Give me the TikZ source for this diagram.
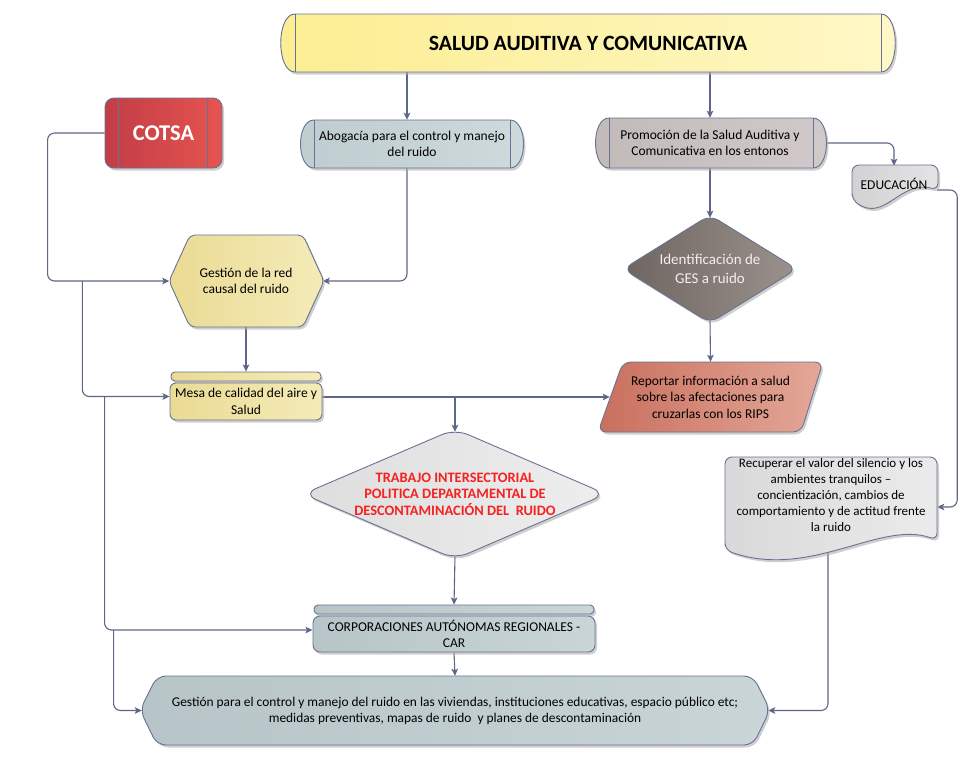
\documentclass[tikz,border=0pt]{standalone}
\usepackage{fontspec}
\setmainfont{Carlito}
\usetikzlibrary{arrows.meta,calc,shadows}
\pgfdeclarelayer{bgfill}
\pgfdeclarelayer{connect}
\pgfsetlayers{bgfill,connect,main}
\definecolor{linec}{HTML}{5E6787}
\definecolor{edgec}{HTML}{6A7292}
\definecolor{ttlA}{HTML}{FBEE92}
\definecolor{ttlB}{HTML}{FFF7C6}
\definecolor{cotA}{HTML}{C23D47}
\definecolor{cotB}{HTML}{E5544F}
\definecolor{aboA}{HTML}{BFCDD0}
\definecolor{aboB}{HTML}{CEDADC}
\definecolor{proA}{HTML}{C2B9B9}
\definecolor{proB}{HTML}{D2CACA}
\definecolor{eduA}{HTML}{D2D2D2}
\definecolor{eduB}{HTML}{E4E4E4}
\definecolor{gesA}{HTML}{EADB94}
\definecolor{gesB}{HTML}{F4EBB8}
\definecolor{ideA}{HTML}{6E6460}
\definecolor{ideB}{HTML}{9B918D}
\definecolor{repA}{HTML}{C96F5E}
\definecolor{repB}{HTML}{E4A898}
\definecolor{traA}{HTML}{DEDEDE}
\definecolor{traB}{HTML}{EEEEEE}
\definecolor{recA}{HTML}{D9D9D9}
\definecolor{recB}{HTML}{EBEBEB}
\definecolor{corA}{HTML}{B7C5C8}
\definecolor{corB}{HTML}{C9D5D7}
\definecolor{redtxt}{HTML}{F52222}
\definecolor{idetxt}{HTML}{F2F0EF}
\definecolor{shadc}{HTML}{B0B0B0}
\begin{document}
\begin{tikzpicture}[x=1pt,y=-1pt,
  conn/.style={draw=linec,line width=1.1pt,rounded corners=7pt,-{Stealth[length=7pt,width=6.5pt,inset=1.5pt]}},
  shp/.style={draw=edgec,line width=0.9pt,drop shadow={shadow xshift=2pt,shadow yshift=-2.5pt,fill=shadc,opacity=0.6}},
  inner/.style={draw=edgec,line width=0.9pt},
  txt/.style={align=center,inner sep=0pt,font=\fontsize{13.5}{16.5}\selectfont},
  anch/.style 2 args={txt,minimum width=#1,minimum height=#2}]
\begin{pgfonlayer}{bgfill}
\fill[white] (0,0) rectangle (971,764);
\end{pgfonlayer}
\useasboundingbox (0,0) rectangle (971,764);

% title
\path[shp,left color=ttlA,right color=ttlB] (295,14) -- (881,14) .. controls (900,14) and (900,72) .. (881,72) -- (295,72) .. controls (276,72) and (276,14) .. (295,14) -- cycle;
\draw[inner] (295,14) -- (295,72) (881,14) -- (881,72);
\node[anch={610pt}{58pt},font=\fontsize{21.8}{24}\selectfont\bfseries] (title) at (588,43) {SALUD AUDITIVA Y COMUNICATIVA};

% COTSA
\node[shp,rounded corners=9pt,left color=cotA,right color=cotB,minimum width=117pt,minimum height=70pt,txt,text=white,font=\fontsize{22.5}{24}\selectfont\bfseries] (cotsa) at (163.5,133) {COTSA};
\draw[inner] ([xshift=14pt]cotsa.north west) -- ([xshift=14pt]cotsa.south west);
\draw[inner] ([xshift=-15pt]cotsa.north east) -- ([xshift=-15pt]cotsa.south east);

% Abogacia
\path[shp,left color=aboA,right color=aboB] (314,120) -- (510,120) .. controls (528,120) and (528,168) .. (510,168) -- (314,168) .. controls (296,168) and (296,120) .. (314,120) -- cycle;
\draw[inner] (314,120) -- (314,168) (510,120) -- (510,168);
\node[anch={224pt}{48pt}] (abog) at (412,144) {Abogacía para el control y manejo\\del ruido};

% Promocion
\path[shp,left color=proA,right color=proB] (609,118) -- (813,118) .. controls (831,118) and (831,168) .. (813,168) -- (609,168) .. controls (591,168) and (591,118) .. (609,118) -- cycle;
\draw[inner] (609,118) -- (609,168) (813,118) -- (813,168);
\node[anch={231pt}{50pt}] (prom) at (710,143) {Promoción de la Salud Auditiva y\\Comunicativa en los entonos};

% EDUCACION
\path[shp,rounded corners=7pt,left color=eduA,right color=eduB] (852,200) -- (852,165) -- (938,165) -- (938,190) .. controls (900,180) and (885,222) .. (852,200) -- cycle;
\node[anch={86pt}{36pt}] (edu) at (894,184) {EDUCACIÓN};

% Gestion red causal
\path[shp,rounded corners=5pt,left color=gesA,right color=gesB] (169,281) -- (190,235) -- (303,235) -- (324,281) -- (303,327) -- (190,327) -- cycle;
\node[anch={153pt}{92pt}] (gest) at (246,281) {Gestión de la red\\causal del ruido};

% Mesa
\path[shp,rounded corners=4pt,left color=gesA,right color=gesB] (171,372) rectangle (321,381);
\node[shp,rounded corners=6pt,left color=gesA,right color=gesB,minimum width=152pt,minimum height=37pt,txt] (mesa) at (246,401.5) {Mesa de calidad del aire y\\Salud};

% Identificacion
\path[shp,rounded corners=10pt,left color=ideA,right color=ideB] (710,215) -- (797,269) -- (710,323) -- (623,269) -- cycle;
\node[anch={162pt}{102pt},text=idetxt,font=\fontsize{15}{18.5}\selectfont] (ident) at (710,269) {Identificación de\\GES a ruido};

% Reportar
\path[shp,rounded corners=8pt,left color=repA,right color=repB] (623,362) -- (823,362) -- (801,432) -- (598,432) -- cycle;
\node[anch={225pt}{70pt}] (rep) at (710.5,397) {Reportar información a salud\\sobre las afectaciones para\\cruzarlas con los RIPS};

% Trabajo
\path[shp,rounded corners=14pt,left color=traA,right color=traB] (455,429) -- (606,494) -- (455,559) -- (303,494) -- cycle;
\node[anch={287pt}{124pt},text=redtxt,font=\fontsize{14.4}{16.5}\selectfont\bfseries] (trab) at (455,494) {TRABAJO INTERSECTORIAL\\POLITICA DEPARTAMENTAL DE\\DESCONTAMINACIÓN DEL\ \ RUIDO};

% Recuperar
\path[shp,rounded corners=7pt,left color=recA,right color=recB] (725,550) -- (725,457) -- (937,457) -- (937,540) .. controls (880,520) and (810,580) .. (725,550) -- cycle;
\node[anch={212pt}{78pt},font=\fontsize{13}{16}\selectfont] (recu) at (831,495) {Recuperar el valor del silencio y los\\ambientes tranquilos –\\concientización, cambios de\\comportamiento y de actitud frente\\la ruido};

% Corporaciones
\path[shp,rounded corners=4pt,left color=corA,right color=corB] (314,605) rectangle (594,614);
\node[shp,rounded corners=7pt,left color=corA,right color=corB,minimum width=282pt,minimum height=36pt,txt] (corp) at (454,634) {CORPORACIONES AUTÓNOMAS REGIONALES -\\CAR};

% Bottom
\path[shp,rounded corners=9pt,left color=corA,right color=corB] (140,710) -- (157,676) -- (753,676) -- (770,710) -- (753,745) -- (157,745) -- cycle;
\node[anch={626pt}{69pt},font=\fontsize{13.4}{16}\selectfont] (bot) at (455,710.5) {Gestión para el control y manejo del ruido en las viviendas, instituciones educativas, espacio público etc;\\medidas preventivas, mapas de ruido\ \ y planes de descontaminación};

\begin{pgfonlayer}{connect}
\draw[conn] ($(title.south -| abog.north)+(-5,0)$) -- ($(abog.north)+(-5,0)$);
\draw[conn] (title.south -| prom.north) -- (prom.north);
\draw[conn] (prom.east) -| (edu.north);
\draw[conn] (prom.south) -- (ident.north);
\draw[conn] (ident.south) -- (rep.north);
\draw[conn] ($(abog.south)+(-5,0)$) |- (gest.east);
\draw[conn] (cotsa.west) -- ++(-57,0) |- (gest.west);
\draw[conn] ($(gest.west)+(-87,0)$) |- ([yshift=5pt]mesa.west);
\draw[conn] ($(mesa.west)+(-65,-5)$) |- ([yshift=4pt]corp.west);
\draw[conn] ($(corp.west)+(-199,-4)$) |- (bot.west);
\draw[conn] (gest.south) -- ($(mesa.north)+(0,-11)$);
\draw[conn] (mesa.east |- rep.west) -- ([xshift=12pt]rep.west);
\draw[conn] (trab.north |- rep.west) -- (trab.north);
\draw[conn] (trab.south) -- ($(corp.north)+(0,-11)$);
\draw[conn] (corp.south) -- (bot.north);
\draw[conn] ([yshift=-6pt]edu.east) -- ++(20,0) |- ([yshift=-12pt]recu.east);
\draw[conn] ($(recu.south)+(-3,0)$) |- (bot.east);
\end{pgfonlayer}
\end{tikzpicture}
\end{document}
